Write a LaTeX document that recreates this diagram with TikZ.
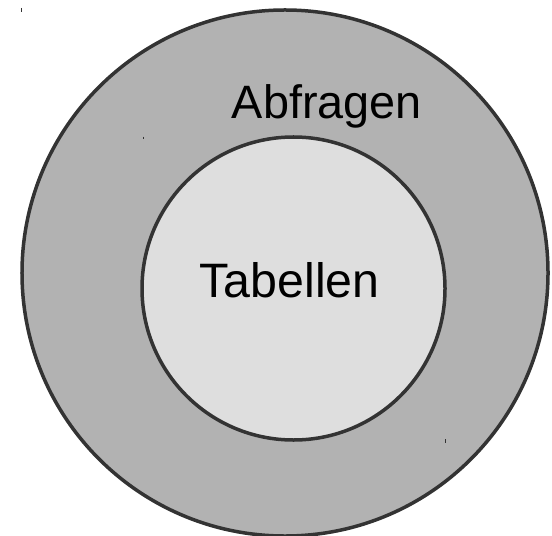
\documentclass[tikz,border=0pt]{standalone}
\usepackage{fontspec}
\setmainfont{Liberation Sans}
\usepackage{tikz}
\usetikzlibrary{positioning}
\definecolor{ringgray}{HTML}{B2B2B2}
\definecolor{coregray}{HTML}{DEDEDE}
\definecolor{edgegray}{HTML}{333333}

\begin{document}
\begin{tikzpicture}[x=1bp,y=-1bp,
   disk/.style={circle,draw=edgegray,line width=3.5bp,inner sep=0pt},
   word/.style={anchor=base,inner sep=0pt,text=black},
   tick/.style={draw=edgegray,line width=1bp}]
   \useasboundingbox (0,0) rectangle (552,536);
   \node[disk,fill=ringgray,minimum size=526bp] (Q) at (285,273) {};
   \node[disk,fill=coregray,minimum size=303bp] (T) at (293.5,288.5) {};
   \node[word,font=\fontsize{47}{56}\selectfont] (qlabel) at (327,118.3) {Abfragen};
   \node[word,font=\fontsize{48.5}{58}\selectfont] (tlabel) at (289.5,297.3) {Tabellen};
   % small marks
   \coordinate (m1) at (21.5,8);   \coordinate (m1e) at (21.5,12);
   \coordinate (m2) at (143.3,136.7); \coordinate (m2e) at (143.3,139.5);
   \coordinate (m3) at (445.7,439.3); \coordinate (m3e) at (445.7,442.7);
   \path[tick] (m1) -- (m1e) (m2) -- (m2e) (m3) -- (m3e);
\end{tikzpicture}
\end{document}
